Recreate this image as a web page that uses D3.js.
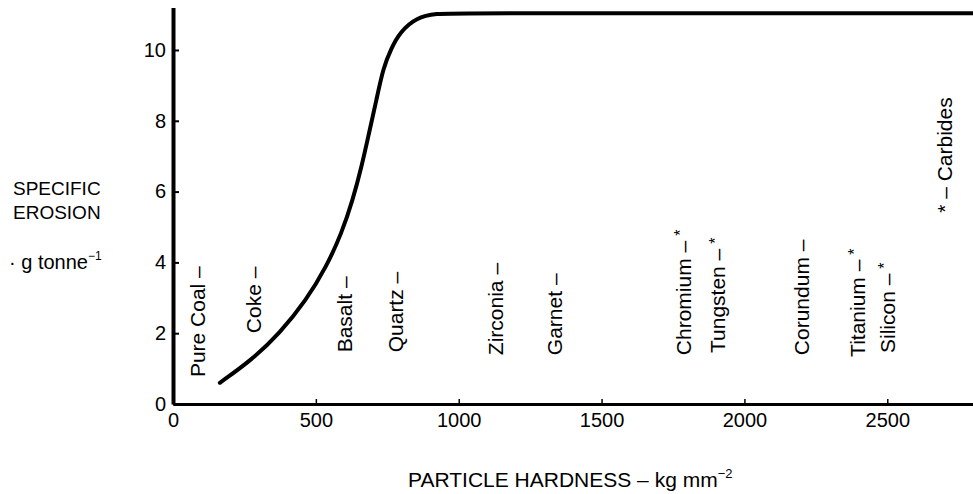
<!DOCTYPE html>
<html>
<head>
<meta charset="utf-8">
<script src="https://cdn.jsdelivr.net/npm/d3@7"></script>
<style>
  body { margin: 0; background: #fff; }
  svg text { font-family: "Liberation Sans", Arial, Helvetica, sans-serif; fill: #000; }
</style>
</head>
<body>
<script>
// chart size
var width = 973;
var height = 494;

// erosion curve (hardness kg mm-2, erosion g tonne-1)
var hardness = [164, 275, 374, 467, 537, 590, 629, 660, 686, 712, 736, 764, 794, 852, 922, 1000, 2800];
var erosion  = [0.60, 1.24, 2.0, 2.94, 3.88, 4.82, 5.76, 6.70, 7.65, 8.59, 9.50, 10.05, 10.5, 10.92, 11.03, 11.04, 11.04];

// materials marked along the hardness axis
var materials   = ["Pure Coal", "Coke", "Basalt", "Quartz", "Zirconia", "Garnet", "Chromium", "Tungsten", "Corundum", "Titanium", "Silicon"];
var materialHv  = [84, 280, 601, 780, 1130, 1336, 1785, 1907, 2200, 2394, 2500];
var materialLow = [0.76, 2.0, 1.46, 1.46, 1.38, 1.38, 1.38, 1.44, 1.38, 1.33, 1.44];
var isCarbide   = [false, false, false, false, false, false, true, true, false, true, true];

var xTicks = [0, 500, 1000, 1500, 2000, 2500];
var yTicks = [0, 2, 4, 6, 8, 10];

var svg = d3.select("body")
    .append("svg")
    .attr("width", width)
    .attr("height", height);

var x = d3.scaleLinear()
    .domain([0, 2800])
    .range([173, 973]);

var y = d3.scaleLinear()
    .domain([0, 11.2])
    .range([404, 7.5]);

// x axis, ticks pointing inwards
var xAxis = svg.append("g")
    .attr("transform", "translate(0," + y(0) + ")")
    .call(d3.axisBottom(x).tickValues(xTicks).tickFormat(d3.format("d"))
        .tickSizeInner(-5).tickSizeOuter(0).tickPadding(9));
xAxis.select(".domain").attr("stroke-width", 3);
xAxis.selectAll(".tick line").attr("stroke-width", 1.5);
xAxis.selectAll("text").style("font-size", "20px").attr("font-family", null);

// y axis
var yAxis = svg.append("g")
    .attr("transform", "translate(" + x(0) + ",0)")
    .call(d3.axisLeft(y).tickValues(yTicks).tickFormat(d3.format("d"))
        .tickSizeInner(-6).tickSizeOuter(0).tickPadding(7));
yAxis.select(".domain").attr("stroke-width", 4);
yAxis.selectAll(".tick line").attr("stroke-width", 2);
yAxis.selectAll("text").style("font-size", "20px").attr("font-family", null);

// the curve
var line = d3.line()
    .x(function(d, i) { return x(hardness[i]); })
    .y(function(d, i) { return y(erosion[i]); })
    .curve(d3.curveBasis);

svg.append("path")
    .datum(hardness)
    .attr("d", line)
    .attr("fill", "none")
    .attr("stroke", "#000")
    .attr("stroke-width", 4)
    .attr("stroke-linecap", "round");

// vertical material labels
var labels = svg.selectAll(".mat")
    .data(materials)
    .enter()
    .append("text")
    .attr("class", "mat")
    .attr("transform", function(d, i) {
        return "translate(" + x(materialHv[i]) + "," + y(materialLow[i]) + ") rotate(-90)";
    })
    .attr("dy", "0.36em")
    .style("font-size", "21px");

labels.append("tspan").text(function(d) { return d + " \u2013"; });
labels.filter(function(d, i) { return isCarbide[i]; })
    .append("tspan")
    .attr("dx", 5)
    .attr("dy", "-0.3em")
    .style("font-size", "16px")
    .text("*");

// carbide key
svg.append("text")
    .attr("transform", "translate(" + x(2700) + "," + y(5.4) + ") rotate(-90)")
    .attr("dy", "0.36em")
    .style("font-size", "21px")
    .text("* \u2013 Carbides");

// y axis title
var yTitle = svg.append("g").style("font-size", "19px");
yTitle.append("text").attr("x", 13).attr("y", 195).text("SPECIFIC");
yTitle.append("text").attr("x", 13).attr("y", 219).text("EROSION");
var unitY = yTitle.append("text").attr("x", 9).attr("y", 269).style("font-size", "20px");
unitY.append("tspan").text("\u00b7 g tonne");
unitY.append("tspan").attr("dy", -9).style("font-size", "12px").text("\u22121");

// x axis title
var xTitle = svg.append("text")
    .attr("x", 408)
    .attr("y", 487)
    .style("font-size", "21px");
xTitle.append("tspan").text("PARTICLE HARDNESS \u2013 kg mm");
xTitle.append("tspan").attr("dy", -9).style("font-size", "13px").text("\u22122");
</script>
</body>
</html>
